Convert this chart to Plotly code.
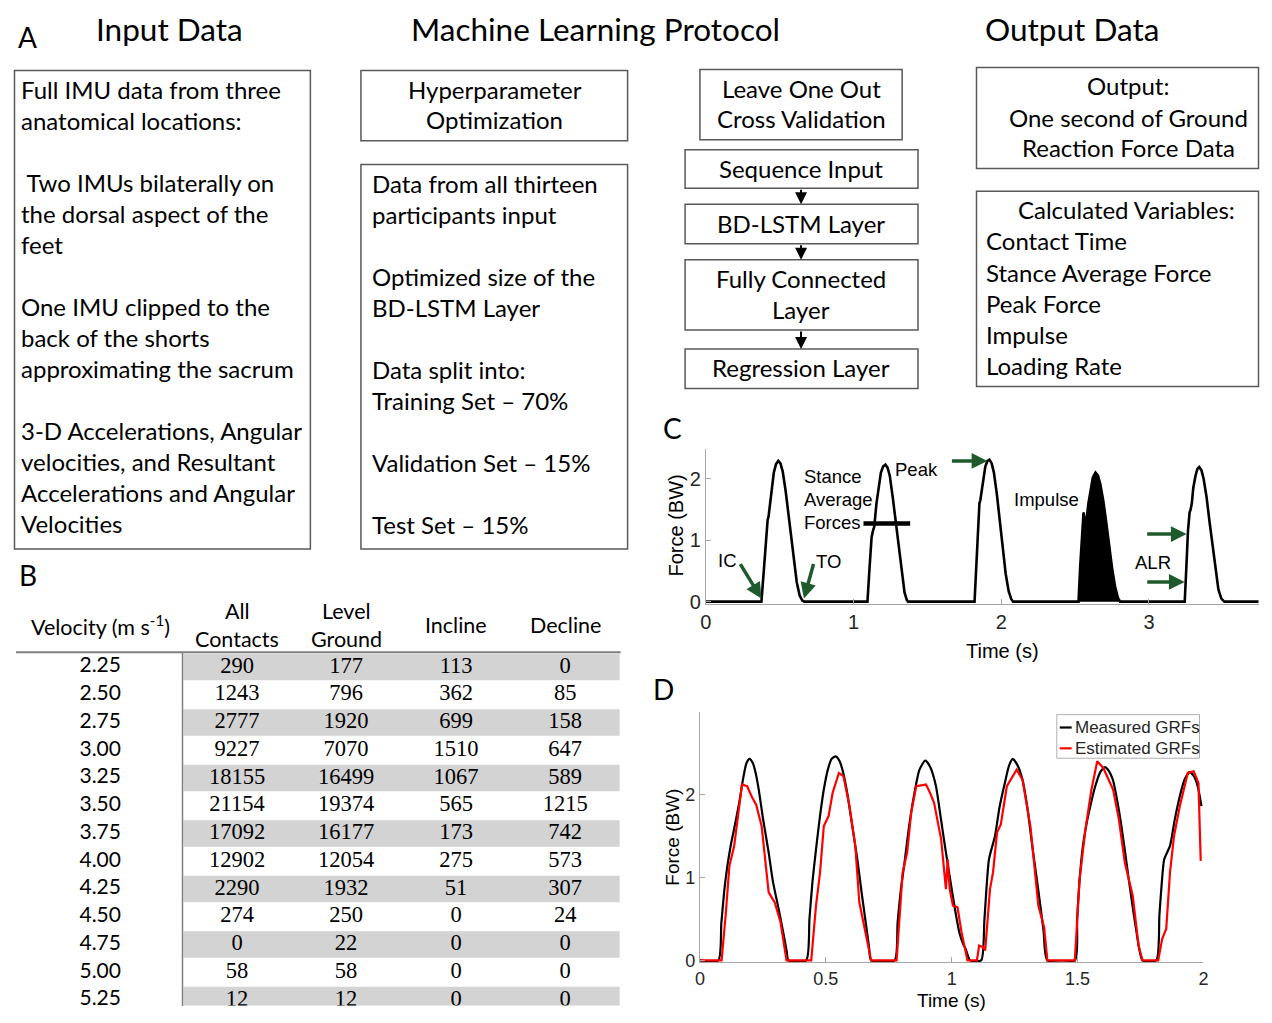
import numpy as np
import plotly.graph_objects as go

# page body keeps an 8px margin, so the figure is drawn 16px smaller and shifted
OFF = 8
W, H = 1272 - 2 * OFF, 1023 - 2 * OFF
def cx(px): return min(max(px, OFF + 0.5), OFF + W - 0.5)
def cy(py): return min(max(py, OFF + 0.5), OFF + H - 0.5)
def X(px): return (px - OFF) / W
def Y(py): return 1 - (py - OFF) / H

CAL = "Lato"
ARIAL = "Liberation Sans"
TIMES = "Liberation Serif"
GREEN = "#1f5a2c"
AXC = "#a6a6a6"

# ---------------- Panel B table data ----------------
velocity = ["2.25", "2.50", "2.75", "3.00", "3.25", "3.50", "3.75", "4.00", "4.25", "4.50", "4.75", "5.00", "5.25"]
all_contacts = [290, 1243, 2777, 9227, 18155, 21154, 17092, 12902, 2290, 274, 0, 58, 12]
level_ground = [177, 796, 1920, 7070, 16499, 19374, 16177, 12054, 1932, 250, 22, 58, 12]
incline = [113, 362, 699, 1510, 1067, 565, 173, 275, 51, 0, 0, 0, 0]
decline = [0, 85, 158, 647, 589, 1215, 742, 573, 307, 24, 0, 0, 0]

# ---------------- Panel C data ----------------
c_time = [0, 0.376, 0.392, 0.405, 0.418, 0.424, 0.432, 0.445, 0.46, 0.475, 0.49, 0.505, 0.52, 0.54, 0.56, 0.577, 0.595, 0.615, 0.635, 0.652, 0.665,
          1.094, 1.108, 1.122, 1.132, 1.14, 1.155, 1.17, 1.185, 1.2, 1.215, 1.23, 1.245, 1.265, 1.285, 1.305, 1.325, 1.345, 1.36, 1.369,
          1.819, 1.83, 1.842, 1.852, 1.858, 1.865, 1.878, 1.892, 1.906, 1.92, 1.935, 1.95, 1.97, 1.99, 2.01, 2.03, 2.05, 2.068, 2.08,
          2.523, 2.535, 2.548, 2.557, 2.566, 2.575, 2.59, 2.605, 2.62, 2.638, 2.655, 2.67, 2.69, 2.71, 2.73, 2.75, 2.77, 2.79, 2.805,
          3.242, 3.252, 3.264, 3.275, 3.282, 3.29, 3.30, 3.315, 3.328, 3.34, 3.355, 3.37, 3.39, 3.41, 3.43, 3.45, 3.47, 3.49, 3.51, 3.77]
c_force = [0, 0, 0.5, 1.0, 1.33, 1.38, 1.55, 1.85, 2.1, 2.24, 2.29, 2.25, 2.12, 1.8, 1.4, 1.0, 0.65, 0.32, 0.1, 0.02, 0,
           0, 0.55, 1.05, 1.16, 1.22, 1.6, 1.9, 2.1, 2.2, 2.23, 2.18, 2.05, 1.7, 1.3, 0.85, 0.45, 0.15, 0.03, 0,
           0, 0.6, 1.3, 1.6, 1.65, 1.75, 2.0, 2.2, 2.29, 2.31, 2.25, 2.1, 1.75, 1.3, 0.85, 0.45, 0.17, 0.04, 0,
           0, 0.6, 1.25, 1.45, 1.3, 1.28, 1.6, 1.85, 2.02, 2.10, 2.05, 1.92, 1.65, 1.3, 0.9, 0.55, 0.25, 0.06, 0,
           0, 0.5, 1.15, 1.45, 1.5, 1.6, 1.85, 2.05, 2.16, 2.19, 2.14, 2.0, 1.7, 1.3, 0.9, 0.5, 0.2, 0.05, 0, 0]
impulse_window = [2.52, 2.81]
stance_avg_force = 1.27
stance_avg_span = [1.067, 1.383]

# ---------------- Panel D data ----------------
d_time_measured = [0, 0.073, 0.085, 0.097, 0.109, 0.122, 0.14, 0.156, 0.172, 0.185, 0.197, 0.21, 0.222, 0.234, 0.25, 0.262, 0.273, 0.29, 0.3125, 0.33, 0.344, 0.352,
                   0.422, 0.435, 0.447, 0.461, 0.476, 0.492, 0.508, 0.523, 0.539, 0.555, 0.57, 0.586, 0.605, 0.625, 0.643, 0.661, 0.672, 0.68,
                   0.773, 0.785, 0.798, 0.8125, 0.83, 0.852, 0.872, 0.895, 0.915, 0.9375, 0.955, 0.973, 0.99, 1.0, 1.015, 1.03, 1.045, 1.055, 1.065, 1.073,
                   1.117, 1.13, 1.148, 1.172, 1.19, 1.211, 1.228, 1.242, 1.26, 1.281, 1.3, 1.32, 1.337, 1.352, 1.365, 1.38,
                   1.489, 1.498, 1.508, 1.522, 1.539, 1.555, 1.57, 1.59, 1.609, 1.625, 1.64, 1.656, 1.672, 1.688, 1.703, 1.72, 1.734, 1.746, 1.758,
                   1.8125, 1.825, 1.836, 1.844, 1.867, 1.886, 1.906, 1.925, 1.945, 1.962, 1.977, 1.992]
d_force_measured = [0, 0, 0.45, 0.85, 1.14, 1.38, 1.65, 1.9, 2.2, 2.38, 2.43, 2.38, 2.25, 2.05, 1.72, 1.5, 1.3, 0.95, 0.62, 0.35, 0.12, 0,
                    0, 0.5, 0.95, 1.34, 1.72, 2.06, 2.3, 2.43, 2.46, 2.4, 2.25, 2.0, 1.62, 1.22, 0.8, 0.4, 0.15, 0,
                    0, 0.45, 0.85, 1.18, 1.6, 2.02, 2.3, 2.41, 2.33, 2.1, 1.75, 1.38, 1.05, 0.86, 0.58, 0.34, 0.2, 0.14, 0.05, 0,
                    0, 0.5, 1.22, 1.5, 1.85, 2.14, 2.35, 2.43, 2.36, 2.18, 1.85, 1.38, 1.0, 0.66, 0.35, 0,
                    0, 0.5, 0.98, 1.4, 1.7, 1.92, 2.1, 2.27, 2.33, 2.28, 2.18, 1.95, 1.66, 1.32, 0.98, 0.62, 0.34, 0.12, 0,
                    0, 0.55, 1.0, 1.22, 1.38, 1.7, 1.98, 2.18, 2.27, 2.22, 2.1, 1.86]
d_time_estimated = [0, 0.086, 0.102, 0.117, 0.136, 0.152, 0.167, 0.1875, 0.208, 0.223, 0.245, 0.273, 0.297, 0.32, 0.344,
                    0.442, 0.461, 0.477, 0.492, 0.511, 0.527, 0.552, 0.570, 0.594, 0.617, 0.633, 0.656, 0.68,
                    0.781, 0.805, 0.823, 0.839, 0.859, 0.898, 0.914, 0.930, 0.958, 0.977, 0.984, 0.992, 1.005, 1.023, 1.039, 1.0625,
                    1.10, 1.109, 1.125, 1.133, 1.152, 1.164, 1.18, 1.195, 1.219, 1.258, 1.281, 1.3125, 1.344, 1.367, 1.38,
                    1.489, 1.508, 1.531, 1.555, 1.578, 1.602, 1.617, 1.641, 1.664, 1.6875, 1.719, 1.742, 1.758,
                    1.82, 1.836, 1.852, 1.867, 1.883, 1.906, 1.9375, 1.961, 1.98, 1.989]
d_force_estimated = [0, 0, 0.54, 1.14, 1.38, 1.78, 2.12, 2.1, 1.96, 1.88, 1.62, 0.82, 0.70, 0.46, 0,
                     0, 0.66, 1.06, 1.62, 1.74, 2.02, 2.26, 2.22, 1.86, 1.38, 0.70, 0.36, 0,
                     0, 1.06, 1.3, 1.78, 2.1, 2.12, 2.02, 1.9, 1.46, 0.86, 1.22, 0.86, 0.66, 0.64, 0.34, 0,
                     0, 0.18, 0.16, 0.12, 0.86, 1.06, 1.54, 1.64, 2.1, 2.3, 2.18, 1.62, 0.66, 0.4, 0,
                     0, 0.98, 1.58, 2.06, 2.4, 2.32, 2.22, 2.06, 1.7, 1.18, 0.78, 0.18, 0,
                     0, 0.26, 0.38, 1.06, 1.5, 1.86, 2.26, 2.28, 2.14, 1.2]

legend_names = ["Measured GRFs", "Estimated GRFs"]

fig = go.Figure()
shapes = []
ann = []

def txt(px, py, s, size, family=CAL, xanchor="center", color="black"):
    ann.append(dict(x=X(px), y=Y(py), xref="paper", yref="paper", text=s, showarrow=False,
                    font=dict(size=size, family=family, color=color), xanchor=xanchor, yanchor="middle"))

def box(x0, y0, x1, y1, color="#595959", width=1.5):
    shapes.append(dict(type="rect", xref="paper", yref="paper", x0=X(cx(x0)), x1=X(cx(x1)), y0=Y(cy(y1)), y1=Y(cy(y0)),
                       line=dict(color=color, width=width)))

# ---------------- Panel A ----------------
TS = 31.5
TY = 29
txt(22, 37, "A", 28)
txt(165, TY, "Input Data", TS)
txt(595, TY, "Machine Learning Protocol", TS)
txt(1075, TY, "Output Data", TS)

BS = 24
DY = -2
box(5, 71, 307, 554)
lines1 = [(0, "Full IMU data from three"), (1, "anatomical locations:"), (3, " Two IMUs bilaterally on"),
          (4, "the dorsal aspect of the"), (5, "feet"), (7, "One IMU clipped to the"), (8, "back of the shorts"),
          (9, "approximating the sacrum"), (11, "3-D Accelerations, Angular"), (12, "velocities, and Resultant"),
          (13, "Accelerations and Angular"), (14, "Velocities")]
for k, s in lines1:
    txt(13, 92 + DY + 31.3 * k, s, BS, xanchor="left")

box(358, 71, 627, 142)
txt(493, 92 + DY, "Hyperparameter", BS)
txt(493, 123 + DY, "Optimization", BS)

box(358, 166, 627, 554)
lines3 = [(0, "Data from all thirteen"), (1, "participants input"), (3, "Optimized size of the"), (4, "BD-LSTM Layer"),
          (6, "Data split into:"), (7, "Training Set \u2013 70%"), (9, "Validation Set \u2013 15%"), (11, "Test Set \u2013 15%")]
for k, s in lines3:
    txt(367, 187 + DY + 31.3 * k, s, BS, xanchor="left")

box(700, 70, 904, 141)
txt(802, 91 + DY, "Leave One Out", BS)
txt(802, 122 + DY, "Cross Validation", BS)
box(685, 151, 920, 190)
txt(802, 172 + DY, "Sequence Input", BS)
box(685, 206, 920, 246)
txt(802, 227 + DY, "BD-LSTM Layer", BS)
box(685, 262, 920, 333)
txt(802, 283 + DY, "Fully Connected", BS)
txt(802, 314 + DY, "Layer", BS)
box(685, 352, 920, 392)
txt(802, 373 + DY, "Regression Layer", BS)
for (a, b) in [(190, 206), (246, 262), (333, 352)]:
    ann.append(dict(x=X(802), y=Y(b), xref="paper", yref="paper", ax=0, ay=-(b - a), axref="pixel", ayref="pixel",
                    showarrow=True, arrowhead=2, arrowsize=1.2, arrowwidth=2, arrowcolor="black", text=""))

box(979, 68, 1270, 170)
txt(1132, 88 + DY, "Output:", BS)
txt(1132, 120 + DY, "One second of Ground", BS)
txt(1132, 151 + DY, "Reaction Force Data", BS)
box(979, 193, 1270, 390)
txt(1130, 213 + DY, "Calculated Variables:", BS)
for k, s in enumerate(["Contact Time", "Stance Average Force", "Peak Force", "Impulse", "Loading Rate"]):
    txt(987, 245 + DY + 31.5 * k, s, BS, xanchor="left")

# ---------------- Panel B (table) ----------------
HS = 21.5
txt(22, 580, "B", 28)
txt(95, 631, "Velocity (m s<sup>-1</sup>)", HS)
txt(233, 616, "All", HS)
txt(233, 645, "Contacts", HS)
txt(343, 616, "Level", HS)
txt(343, 645, "Ground", HS)
txt(454, 631, "Incline", HS)
txt(564, 631, "Decline", HS)

col_x = [95, 233, 343, 454, 564]
rows = list(range(len(velocity)))
ROW_H = 28
tab_top = 659
tab_bot = cy(1023)
for i in rows:
    if i % 2 == 0:
        shapes.append(dict(type="rect", xref="x3", yref="y3", x0=179, x1=619, y0=i - 0.48, y1=i + 0.48,
                           fillcolor="#d3d3d3", line=dict(width=0), layer="below"))
fig.add_trace(go.Scatter(x=[col_x[0]] * len(velocity), y=rows, text=velocity, mode="text",
                         textfont=dict(family=CAL, size=21, color="black"), xaxis="x3", yaxis="y3",
                         showlegend=False, hoverinfo="skip"))
for ccx, col in zip(col_x[1:], [all_contacts, level_ground, incline, decline]):
    fig.add_trace(go.Scatter(x=[ccx] * len(col), y=rows, text=[str(v) for v in col], mode="text",
                             textfont=dict(family=TIMES, size=22.5, color="black"), xaxis="x3", yaxis="y3",
                             showlegend=False, hoverinfo="skip"))
shapes.append(dict(type="line", xref="paper", yref="paper", x0=X(cx(10)), x1=X(620), y0=Y(658), y1=Y(658),
                   line=dict(color="#7f7f7f", width=2)))
shapes.append(dict(type="line", xref="paper", yref="paper", x0=X(178), x1=X(178), y0=Y(658), y1=Y(tab_bot + 0.5),
                   line=dict(color="#7f7f7f", width=1.5)))

# ---------------- Panel C ----------------
ct = np.array(c_time)
cf = np.array(c_force)
mask = (ct >= impulse_window[0]) & (ct <= impulse_window[1])
fig.add_trace(go.Scatter(x=ct[mask], y=cf[mask], mode="lines", fill="tozeroy", fillcolor="black",
                         line=dict(color="black", width=1), xaxis="x", yaxis="y", showlegend=False, hoverinfo="skip"))
fig.add_trace(go.Scatter(x=ct, y=cf, mode="lines", line=dict(color="black", width=2.6),
                         xaxis="x", yaxis="y", showlegend=False))
shapes.append(dict(type="line", xref="x", yref="y", x0=stance_avg_span[0], x1=stance_avg_span[1],
                   y0=stance_avg_force, y1=stance_avg_force, line=dict(color="black", width=4.5)))

LS = 18.5
txt(672, 432, "C", 28)
txt(728, 565, "IC", LS, ARIAL)
txt(830, 566, "TO", LS, ARIAL)
txt(803, 481, "Stance", LS, ARIAL, xanchor="left")
txt(803, 504, "Average", LS, ARIAL, xanchor="left")
txt(803, 527, "Forces", LS, ARIAL, xanchor="left")
txt(918, 474, "Peak", LS, ARIAL)
txt(1050, 504, "Impulse", LS, ARIAL)
txt(1157, 567, "ALR", LS, ARIAL)
txt(676, 530, "Force (BW)", 20, ARIAL)
ann[-1]["textangle"] = -90
txt(1005, 657, "Time (s)", 20, ARIAL)

def garrow(xh, yh, ax, ay):
    ann.append(dict(x=xh, y=yh, xref="x", yref="y", ax=ax, ay=ay, axref="pixel", ayref="pixel", text="",
                    showarrow=True, arrowhead=2, arrowsize=0.9, arrowwidth=3.5, arrowcolor=GREEN))
garrow(0.376, 0.05, -22, -36)
garrow(0.664, 0.05, 10, -36)
garrow(1.906, 2.29, -37, 0)
garrow(3.255, 1.10, -41, 0)
garrow(3.242, 0.32, -39, 0)

# ---------------- Panel D ----------------
fig.add_trace(go.Scatter(x=d_time_measured, y=d_force_measured, mode="lines", name=legend_names[0],
                         line=dict(color="black", width=2.2, shape="spline", smoothing=0.6),
                         xaxis="x2", yaxis="y2", showlegend=False))
fig.add_trace(go.Scatter(x=d_time_estimated, y=d_force_estimated, mode="lines", name=legend_names[1],
                         line=dict(color="#ff0000", width=2.2), xaxis="x2", yaxis="y2", showlegend=False))
txt(663, 695, "D", 28)
txt(672, 845, "Force (BW)", 19, ARIAL)
ann[-1]["textangle"] = -90
txt(954, 1009, "Time (s)", 19, ARIAL)

# legend box
box(1060, 721, 1204, 765, color="#b0b0b0", width=1)
for k, (nm, colr) in enumerate(zip(legend_names, ["black", "#ff0000"])):
    yy = 734 + 21 * k
    shapes.append(dict(type="line", xref="paper", yref="paper", x0=X(1063), x1=X(1075), y0=Y(yy), y1=Y(yy),
                       line=dict(color=colr, width=2.2)))
    txt(1076, yy, nm, 17, ARIAL, xanchor="left", color="#262626")

# ---------------- axes ----------------
tickfont_c = dict(family=ARIAL, size=20, color="#262626")
tickfont_d = dict(family=ARIAL, size=18, color="#262626")
C_PX_X, C_PX_Y = 149, 62
D_PX_X, D_PX_Y = 254, 83.7
c_left, c_right, c_zero, c_top = 706, cx(1268), 607, 453
c_bot = 609
d_left, d_right, d_zero, d_top = 700, 1208, 969, 718
d_bot = 971
axcommon = dict(ticks="inside", ticklen=5, tickcolor=AXC, showline=True, linecolor=AXC, linewidth=1.2,
                showgrid=False, zeroline=False)
fig.update_layout(
    xaxis=dict(domain=[X(c_left), X(c_right)], range=[0, (c_right - c_left) / C_PX_X], tickvals=[0, 1, 2, 3],
               tickfont=tickfont_c, anchor="y", **axcommon),
    yaxis=dict(domain=[Y(c_bot), Y(c_top)], range=[-(c_bot - c_zero) / C_PX_Y, (c_zero - c_top) / C_PX_Y],
               tickvals=[0, 1, 2], tickfont=tickfont_c, anchor="x", **axcommon),
    xaxis2=dict(domain=[X(d_left), X(d_right)], range=[0, 2], tickvals=[0, 0.5, 1, 1.5, 2],
                ticktext=["0", "0.5", "1", "1.5", "2"], tickfont=tickfont_d, anchor="y2", **axcommon),
    yaxis2=dict(domain=[Y(d_bot), Y(d_top)], range=[-(d_bot - d_zero) / D_PX_Y, (d_zero - d_top) / D_PX_Y],
                tickvals=[0, 1, 2, 3], tickfont=tickfont_d, anchor="x2", **axcommon),
    xaxis3=dict(domain=[0, X(636)], range=[OFF, 636], visible=False, anchor="y3"),
    yaxis3=dict(domain=[Y(tab_bot), Y(tab_top)], range=[-0.5 + (tab_bot - tab_top) / ROW_H, -0.5],
                visible=False, anchor="x3"),
    width=W, height=H, margin=dict(l=0, r=0, t=0, b=0),
    paper_bgcolor="white", plot_bgcolor="rgba(0,0,0,0)",
    shapes=shapes, annotations=ann, showlegend=False,
)

fig.write_html("out.html", config={"displayModeBar": False})
